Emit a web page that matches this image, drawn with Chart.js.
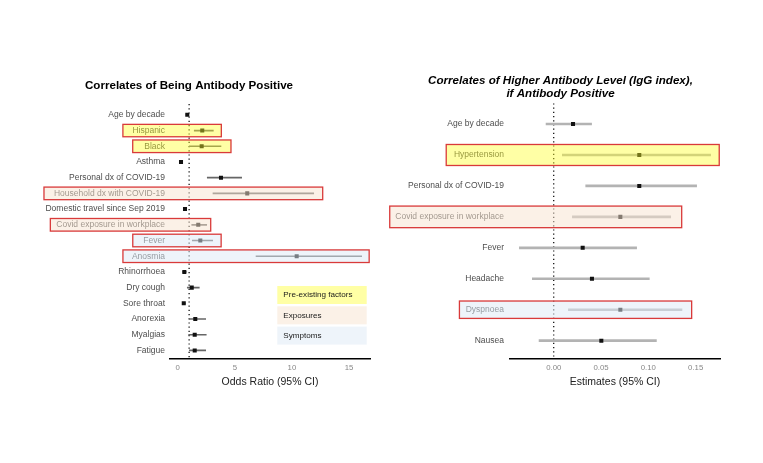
<!DOCTYPE html>
<html>
<head>
<meta charset="utf-8">
<script src="https://cdn.jsdelivr.net/npm/chart.js@4.4.0/dist/chart.umd.min.js"></script>
<style>
  html, body { margin: 0; padding: 0; background: #fff; }
  #wrap { position: relative; width: 763px; height: 463px; }
  #wrap canvas { position: absolute; left: 0; top: 0; }
</style>
</head>
<body>
<div id="wrap">
  <canvas id="left" width="763" height="463"></canvas>
  <canvas id="right" width="763" height="463"></canvas>
</div>
<script>
// Left panel: odds ratios
const leftLabels = ['Age by decade', 'Hispanic', 'Black', 'Asthma', 'Personal dx of COVID-19',
  'Household dx with COVID-19', 'Domestic travel since Sep 2019', 'Covid exposure in workplace',
  'Fever', 'Anosmia', 'Rhinorrhoea', 'Dry cough', 'Sore throat', 'Anorexia', 'Myalgias', 'Fatigue'];
const leftEst = [0.84, 2.15, 2.10, 0.29, 3.79, 6.09, 0.64, 1.80, 1.98, 10.42, 0.58, 1.23, 0.53, 1.54, 1.49, 1.49];
const leftLo  = [0.74, 1.45, 1.02, 0.20, 2.59, 3.09, 0.52, 1.23, 1.28, 6.86, 0.44, 0.84, 0.42, 1.02, 0.96, 1.02];
const leftHi  = [0.95, 3.12, 3.79, 0.40, 5.60, 11.91, 0.78, 2.54, 3.06, 16.11, 0.74, 1.89, 0.66, 2.45, 2.50, 2.45];
const leftTicks = [0, 5, 10, 15];
const leftTickLabels = ['0', '5', '10', '15'];

// Right panel: estimates
const rightLabels = ['Age by decade', 'Hypertension', 'Personal dx of COVID-19', 'Covid exposure in workplace',
  'Fever', 'Headache', 'Dyspnoea', 'Nausea'];
const rightEst = [0.0204, 0.0904, 0.0904, 0.0704, 0.0306, 0.0404, 0.0704, 0.0503];
const rightLo  = [-0.0081, 0.0091, 0.0338, 0.0197, -0.0363, -0.0226, 0.0155, -0.0155];
const rightHi  = [0.0400, 0.1658, 0.1510, 0.1236, 0.0876, 0.1010, 0.1355, 0.1085];
const rightTicks = [0, 0.05, 0.10, 0.15];
const rightTickLabels = ['0.00', '0.05', '0.10', '0.15'];

const legendLabels = ['Pre-existing factors', 'Exposures', 'Symptoms'];
const legendGroups = ['pre', 'exp', 'sym'];

// highlighted rows (group colour, box padding round label and CI)
const leftHighlights = [
  { label: 'Hispanic', group: 'pre', padL: 9.5, padR: 8, half: 6.2 },
  { label: 'Black', group: 'pre', padL: 11.5, padR: 10, half: 6.3 },
  { label: 'Household dx with COVID-19', group: 'exp', padL: 10, padR: 9, half: 6.3 },
  { label: 'Covid exposure in workplace', group: 'exp', padL: 6, padR: 4, half: 6.3 },
  { label: 'Fever', group: 'sym', padL: 10.5, padR: 8.5, half: 6.3 },
  { label: 'Anosmia', group: 'sym', padL: 9, padR: 7.5, half: 6.3 }
];
const rightHighlights = [
  { label: 'Hypertension', group: 'pre', padL: 7.7, padR: 8.6, half: 10.5 },
  { label: 'Covid exposure in workplace', group: 'exp', padL: 5.6, padR: 11, half: 10.8 },
  { label: 'Dyspnoea', group: 'sym', padL: 6.3, padR: 9.7, half: 8.7 }
];

const groupFill = {
  pre: 'rgba(255,255,40,0.42)',
  exp: 'rgba(248,228,208,0.5)',
  sym: 'rgba(222,233,245,0.5)'
};

Chart.defaults.font.family = '"Liberation Sans", Arial, Helvetica, sans-serif';

function forestChart(id, cfg) {
  const labelFont = '8.5px "Liberation Sans", Arial, sans-serif';

  const extras = {
    id: 'extras',
    beforeDatasetsDraw(chart) {
      const { ctx, chartArea } = chart;
      const x = chart.scales.x.getPixelForValue(cfg.refValue);
      ctx.save();
      ctx.strokeStyle = '#000';
      ctx.lineWidth = 1.2;
      ctx.setLineDash([1.2, 3]);
      ctx.beginPath();
      ctx.moveTo(x, chartArea.top - 3);
      ctx.lineTo(x, chartArea.bottom);
      ctx.stroke();
      ctx.restore();
    },
    afterDraw(chart) {
      const { ctx, chartArea } = chart;
      const xs = chart.scales.x, ys = chart.scales.y;
      ctx.save();

      // title
      ctx.fillStyle = '#000';
      ctx.textAlign = 'center';
      ctx.textBaseline = 'middle';
      ctx.font = cfg.titleFont;
      cfg.title.forEach((t, i) => ctx.fillText(t, cfg.titleX, cfg.titleY + i * 13));

      // highlight boxes laid over labels and marks
      ctx.font = labelFont;
      cfg.highlights.forEach(h => {
        const i = cfg.labels.indexOf(h.label);
        const cy = ys.getPixelForValue(i);
        const textRight = ys.right - cfg.tickPad;
        const left = textRight - ctx.measureText(h.label).width - h.padL;
        const right = xs.getPixelForValue(cfg.hi[i]) + h.padR;
        ctx.fillStyle = groupFill[h.group];
        ctx.fillRect(left, cy - h.half, right - left, 2 * h.half);
        ctx.strokeStyle = '#d93a3a';
        ctx.lineWidth = 1.3;
        ctx.strokeRect(left, cy - h.half, right - left, 2 * h.half);
      });

      // legend
      if (cfg.legend) {
        const lx = chartArea.right - 92.7, lw = 89.4;
        ctx.font = '8.1px "Liberation Sans", Arial, sans-serif';
        ctx.textAlign = 'left';
        legendLabels.forEach((t, k) => {
          const ly = 286 + k * 20.3;
          ctx.fillStyle = groupFill[legendGroups[k]];
          ctx.fillRect(lx, ly, lw, 18);
          ctx.fillStyle = '#1a1a1a';
          ctx.fillText(t, lx + 6, ly + 9);
        });
      }
      ctx.restore();
    }
  };

  return new Chart(document.getElementById(id), {
    type: 'bar',
    data: {
      datasets: [
        {
          type: 'bar',
          indexAxis: 'y',
          data: cfg.labels.map((l, i) => ({ x: [cfg.lo[i], cfg.hi[i]], y: i })),
          backgroundColor: cfg.ciColor,
          barThickness: cfg.ciWidth,
          borderWidth: 0,
          order: 2
        },
        {
          type: 'scatter',
          data: cfg.labels.map((l, i) => ({ x: cfg.est[i], y: i })),
          pointStyle: 'rect',
          pointRadius: 2.85,
          backgroundColor: '#111',
          borderWidth: 0,
          order: 1
        }
      ]
    },
    options: {
      responsive: false,
      animation: false,
      events: [],
      layout: { padding: { left: 0, top: cfg.top, right: 763 - cfg.right, bottom: 0 } },
      plugins: { legend: { display: false }, tooltip: { enabled: false } },
      scales: {
        x: {
          type: 'linear',
          offset: false,
          min: cfg.xMin,
          max: cfg.xMax,
          afterBuildTicks: s => { s.ticks = cfg.ticks.map(v => ({ value: v })); },
          afterFit: s => { s.height = 463 - cfg.bottom; },
          ticks: {
            callback: (v, i) => cfg.tickLabels[i],
            font: { size: 7.8 },
            color: '#888',
            padding: 5.3
          },
          grid: { display: false, drawTicks: false, offset: false },
          border: { display: true, color: '#000', width: 1.5 },
          title: {
            display: true,
            text: cfg.xTitle,
            font: { size: 10.5 },
            color: '#222',
            padding: { top: 0, bottom: 75 }
          }
        },
        y: {
          type: 'linear',
          offset: false,
          min: cfg.yMin,
          max: cfg.yMax,
          reverse: true,
          afterBuildTicks: s => { s.ticks = cfg.labels.map((l, i) => ({ value: i })); },
          afterFit: s => { s.width = cfg.left; },
          ticks: {
            callback: v => cfg.labels[v],
            autoSkip: false,
            font: { size: 8.5 },
            color: '#4d4d4d',
            padding: cfg.tickPad
          },
          grid: { display: false, drawTicks: false, offset: false },
          border: { display: false }
        }
      }
    },
    plugins: [extras]
  });
}

forestChart('left', {
  labels: leftLabels, est: leftEst, lo: leftLo, hi: leftHi,
  ticks: leftTicks, tickLabels: leftTickLabels,
  xMin: -0.674, xMax: 16.84, yMin: -0.5, yMax: 15.5,
  left: 170, right: 370, top: 107, bottom: 358.3, tickPad: 5,
  refValue: 1, ciColor: '#666', ciWidth: 1,
  xTitle: 'Odds Ratio (95% CI)',
  title: ['Correlates of Being Antibody Positive'],
  titleFont: 'bold 11.6px "Liberation Sans", Arial, sans-serif',
  titleX: 189, titleY: 85.7,
  highlights: leftHighlights, legend: true
});

forestChart('right', {
  labels: rightLabels, est: rightEst, lo: rightLo, hi: rightHi,
  ticks: rightTicks, tickLabels: rightTickLabels,
  xMin: -0.0462, xMax: 0.1757, yMin: -0.57, yMax: 7.57,
  left: 510, right: 720, top: 106.4, bottom: 358.3, tickPad: 6,
  refValue: 0, ciColor: '#b3b3b3', ciWidth: 2,
  xTitle: 'Estimates (95% CI)',
  title: ['Correlates of Higher Antibody Level (IgG index),', 'if Antibody Positive'],
  titleFont: 'italic bold 11.6px "Liberation Sans", Arial, sans-serif',
  titleX: 560.5, titleY: 81,
  highlights: rightHighlights, legend: false
});
</script>
</body>
</html>
